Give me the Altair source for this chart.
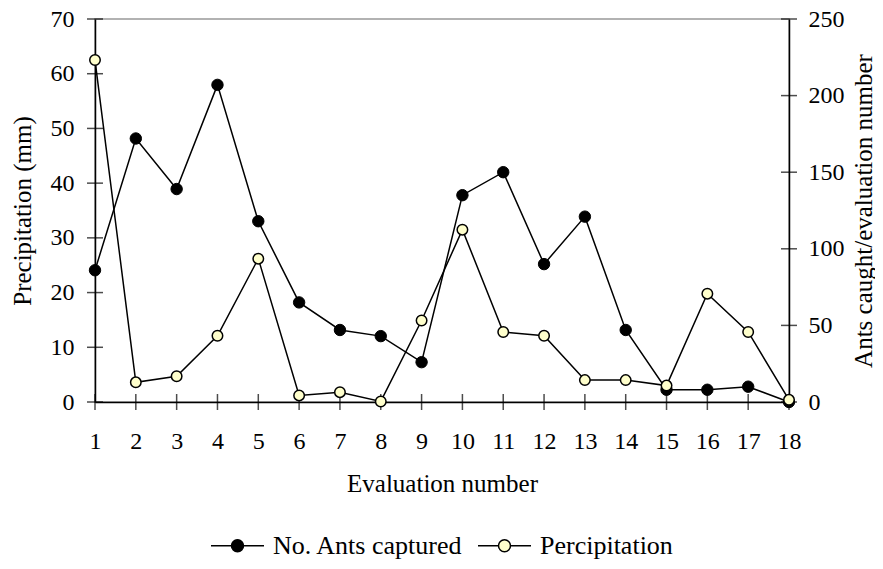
import altair as alt
import pandas as pd

evaluation = list(range(1, 19))
ants = [86, 172, 139, 207, 118, 65, 47, 43, 26, 135, 150, 90, 121, 47, 8, 8, 10, 0]
precip = [62.5, 3.6, 4.7, 12.1, 26.2, 1.2, 1.8, 0.1, 14.9, 31.5, 12.8, 12.1, 4.0, 4.0, 3.0, 19.8, 12.8, 0.4]
left_ticks = [0, 10, 20, 30, 40, 50, 60, 70]
right_ticks = [0, 50, 100, 150, 200, 250]
series_names = ["No. Ants captured", "Percipitation"]
fills = ["#000000", "#FFFFCC"]

df = pd.DataFrame({"eval": evaluation, "ants": ants, "precip": precip})
lt = pd.DataFrame({"precip": left_ticks})
rt = pd.DataFrame({"ants": right_ticks})

FONT = "Liberation Serif"
xscale = alt.Scale(domain=[1, 18], nice=False, zero=False)
xaxis = alt.Axis(values=evaluation, title="Evaluation number", ticks=False,
                 labelPadding=27, labelFlush=False, labelOverlap=False,
                 titleX=347, titleY=89, titleBaseline="alphabetic", titleAlign="center")
lscale = alt.Scale(domain=[0, 70], nice=False)
rscale = alt.Scale(domain=[0, 250], nice=False)
laxis = alt.Axis(values=left_ticks, title="Precipitation (mm)", orient="left", ticks=False,
                 labelPadding=21, labelFlush=False, labelOverlap=False,
                 titleAngle=270, titleX=-73, titleY=191.5,
                 titleBaseline="middle", titleAlign="center")
raxis = alt.Axis(values=right_ticks, title="Ants caught/evaluation number", orient="right",
                 ticks=False, labelPadding=19, labelFlush=False, labelOverlap=False,
                 titleAngle=270, titleX=74, titleY=191.5,
                 titleBaseline="middle", titleAlign="center")

sym = ("M-1,0L-0.226,0M0.226,0L1,0"
       "M-0.226,0A0.226,0.226,0,1,0,0.226,0A0.226,0.226,0,1,0,-0.226,0Z")
fill_enc = alt.Fill("series:N", scale=alt.Scale(domain=series_names, range=fills),
                    legend=alt.Legend(title=None, orient="none", direction="horizontal",
                                      legendX=115, legendY=499, symbolType=sym,
                                      symbolSize=2809, symbolStrokeColor="black",
                                      symbolStrokeWidth=1.5, labelFontSize=26,
                                      labelFont=FONT, labelColor="black",
                                      labelLimit=400, labelOffset=8, columnPadding=12))

base = alt.Chart(df)

# ants layer (right axis)
a_rticks = alt.Chart(rt).mark_tick(orient="horizontal", size=16, thickness=1.5,
                                   color="black").encode(
    x=alt.X(datum=18, scale=xscale, axis=xaxis),
    y=alt.Y("ants:Q", scale=rscale, axis=raxis))
a_line = base.mark_line(color="black", strokeWidth=1.5).encode(
    x=alt.X("eval:Q", scale=xscale, axis=xaxis),
    y=alt.Y("ants:Q", scale=rscale, axis=raxis))
a_pts = base.transform_calculate(series="'No. Ants captured'").mark_point(
    filled=True, size=130, stroke="black", strokeWidth=1, opacity=1, fillOpacity=1).encode(
    x=alt.X("eval:Q", scale=xscale, axis=xaxis),
    y=alt.Y("ants:Q", scale=rscale, axis=raxis),
    fill=fill_enc)
ants_layer = alt.layer(a_rticks, a_line, a_pts)

# precip layer (left axis)
p_lticks = alt.Chart(lt).mark_tick(orient="horizontal", size=16, thickness=1.5,
                                   color="black").encode(
    x=alt.X(datum=1, scale=xscale, axis=xaxis),
    y=alt.Y("precip:Q", scale=lscale, axis=laxis))
p_xticks = base.mark_tick(orient="vertical", size=16, thickness=1.5, color="black").encode(
    x=alt.X("eval:Q", scale=xscale, axis=xaxis),
    y=alt.Y(datum=0, scale=lscale, axis=laxis))
p_line = base.mark_line(color="black", strokeWidth=1.5).encode(
    x=alt.X("eval:Q", scale=xscale, axis=xaxis),
    y=alt.Y("precip:Q", scale=lscale, axis=laxis))
p_pts = base.transform_calculate(series="'Percipitation'").mark_point(
    filled=True, size=110, stroke="black", strokeWidth=1.5, opacity=1, fillOpacity=1).encode(
    x=alt.X("eval:Q", scale=xscale, axis=xaxis),
    y=alt.Y("precip:Q", scale=lscale, axis=laxis),
    fill=fill_enc)
precip_layer = alt.layer(p_lticks, p_xticks, p_line, p_pts)

chart = alt.layer(ants_layer, precip_layer).resolve_scale(y="independent").properties(
    width=694, height=383,
    autosize=alt.AutoSizeParams(type="none"),
    padding={"left": 87, "top": 11, "right": 86, "bottom": 159},
    background="white",
).configure_view(stroke="#999999", strokeWidth=1.5).configure_axis(
    domainColor="black", domainWidth=1.5, grid=False, labelFont=FONT, labelFontSize=24,
    labelColor="black", titleFont=FONT, titleFontSize=25, titleFontWeight="normal",
    titleColor="black", zindex=1)

chart.save("out.html", embed_options={"renderer": "svg", "actions": False})
